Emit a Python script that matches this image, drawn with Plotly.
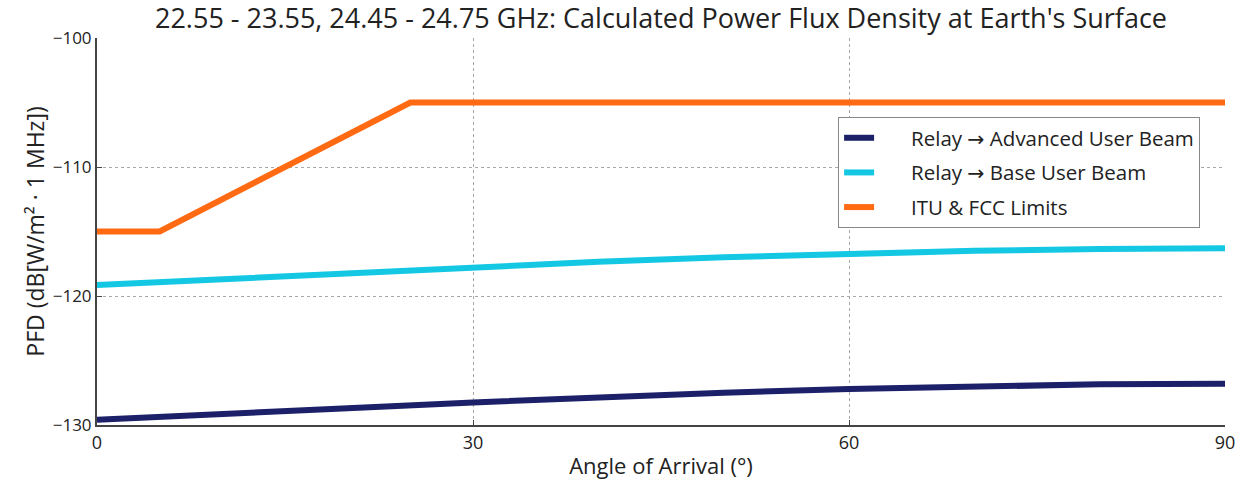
import plotly.graph_objects as go

angles = [0, 10, 20, 30, 40, 50, 60, 70, 80, 90]
advanced_pfd = [-129.6, -129.1, -128.7, -128.25, -127.85, -127.5, -127.2, -127.0, -126.85, -126.8]
base_pfd = [-119.15, -118.7, -118.2, -117.75, -117.35, -117.0, -116.7, -116.5, -116.35, -116.3]
limit_angles = [0, 5, 25, 90]
limit_pfd = [-115, -115, -105, -105]

x_ticks = [0, 30, 60, 90]
y_ticks = [-130, -120, -110, -100]
y_tick_text = ["\u2212130", "\u2212120", "\u2212110", "\u2212100"]

font_family = "Open Sans, DejaVu Sans, sans-serif"
pad = "\u00a0\u00a0\u00a0\u00a0\u00a0\u00a0"

fig = go.Figure()
fig.add_trace(go.Scatter(x=angles, y=advanced_pfd, mode="lines",
                         name=pad + "Relay \u2192 Advanced User Beam", legendgroup="a",
                         line=dict(color="#1b2068", width=6)))
fig.add_trace(go.Scatter(x=angles, y=base_pfd, mode="lines",
                         name=pad + "Relay \u2192 Base User Beam", legendgroup="b",
                         line=dict(color="#14c8e4", width=6)))
fig.add_trace(go.Scatter(x=limit_angles, y=limit_pfd, mode="lines",
                         name=pad + "ITU & FCC Limits", legendgroup="c",
                         line=dict(color="#ff6a12", width=6)))

fig.update_layout(
    width=1247, height=489,
    margin=dict(l=97, r=19, t=38, b=64),
    paper_bgcolor="white", plot_bgcolor="white",
    font=dict(family=font_family, color="#222222", size=16),
    title=dict(text="22.55 - 23.55, 24.45 - 24.75 GHz: Calculated Power Flux Density at Earth's Surface",
               xref="paper", x=0.5, xanchor="center", y=1 - 19 / 489, yanchor="middle",
               font=dict(size=27, color="#222222")),
    legend=dict(x=0.657, y=0.796, xanchor="left", yanchor="top",
                bordercolor="#888888", borderwidth=1, bgcolor="white",
                font=dict(size=20.5, color="#222222"), tracegroupgap=5),
    showlegend=True,
)
fig.update_xaxes(range=[0, 90], tickvals=x_ticks, ticktext=[str(v) for v in x_ticks],
                 showgrid=True, gridcolor="#a8a8a8", griddash="dot", gridwidth=1,
                 showline=True, linecolor="#444444", linewidth=2, mirror=False,
                 ticks="inside", ticklen=5, tickcolor="#444444",
                 zeroline=False,
                 title=dict(text="Angle of Arrival (\u00b0)", font=dict(size=22), standoff=6),
                 tickfont=dict(size=18))
fig.update_yaxes(range=[-130, -100], tickvals=y_ticks, ticktext=y_tick_text,
                 showgrid=True, gridcolor="#a8a8a8", griddash="dot", gridwidth=1,
                 showline=True, linecolor="#444444", linewidth=2, mirror=False,
                 ticks="inside", ticklen=5, tickcolor="#444444",
                 zeroline=False,
                 title=dict(text="PFD (dB[W/m\u00b2 \u00b7 1 MHz])", font=dict(size=23), standoff=2),
                 tickfont=dict(size=17))

fig.write_html("out.html", config={"displayModeBar": False},
               post_script="document.body.style.margin='0';")
